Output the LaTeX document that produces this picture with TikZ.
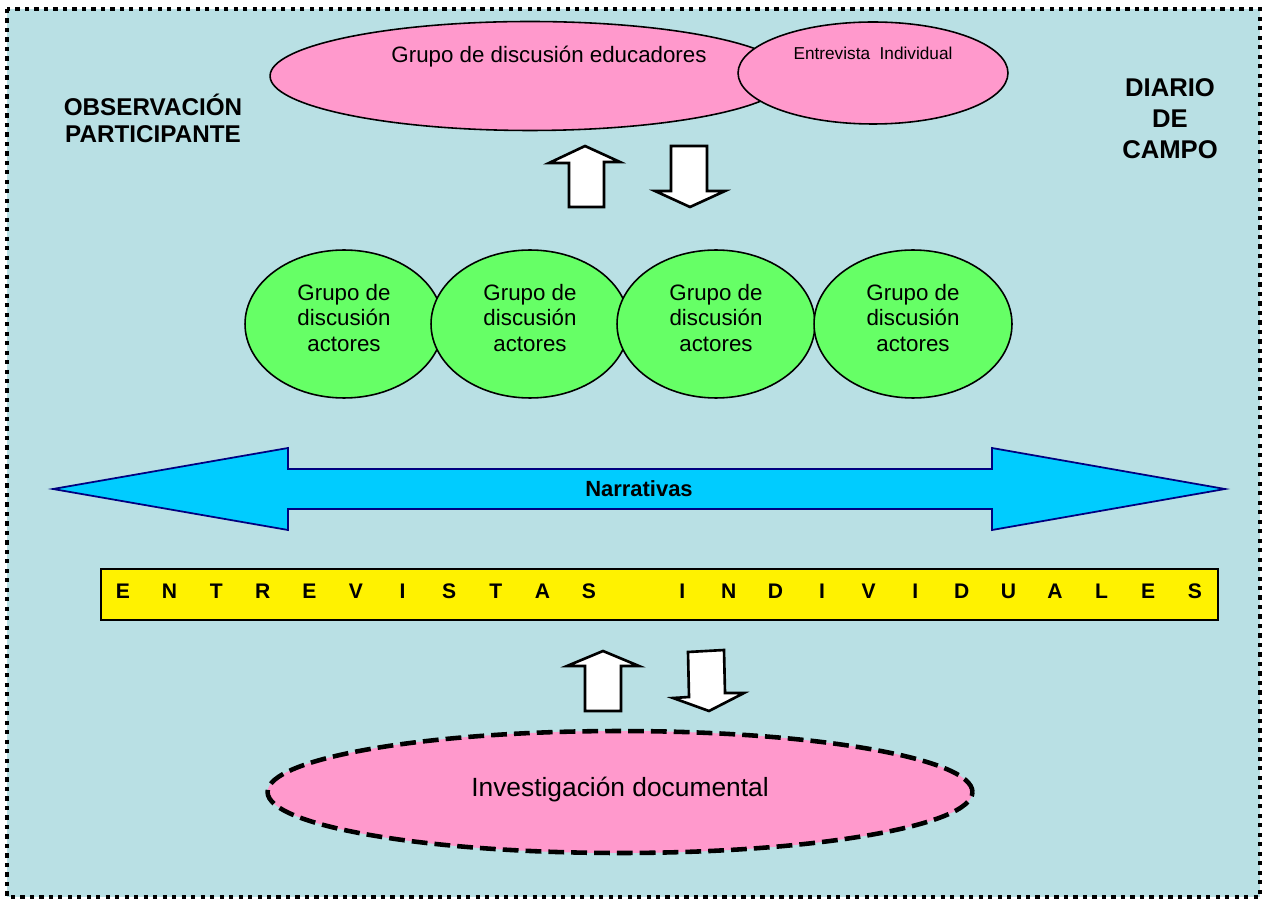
\documentclass[tikz,border=0pt]{standalone}
\usepackage{fontspec}
\setmainfont{Liberation Sans}
\usetikzlibrary{shapes.geometric, positioning}

\definecolor{bgblue}{HTML}{B9E0E4}
\definecolor{rosa}{HTML}{FF99CC}
\definecolor{verde}{HTML}{66FF66}
\definecolor{celeste}{HTML}{00CCFF}
\definecolor{marino}{HTML}{000080}

\begin{document}
\begin{tikzpicture}[x=0.02cm, y=-0.02cm,
    pinkell/.style={ellipse, draw=black, line width=0.9pt, fill=rosa, inner sep=0pt},
    actor/.style={ellipse, draw=black, line width=0.9pt, fill=verde, inner sep=0pt,
        minimum width=3.96cm, minimum height=2.96cm},
    actortext/.style={align=center, font=\fontsize{12.7}{14.5}\selectfont},
    blockarrow/.style={draw=black, fill=white, line width=1.5pt, line join=miter}]

\useasboundingbox (0,0) rectangle (1266,901);

% Background with dotted frame
\fill[bgblue] (7,9) rectangle (1260,897);
\draw[line width=2.4pt, dash pattern=on 2.4pt off 3pt] (7,9) rectangle (1260,897);

% Side titles
\node[align=center, font=\bfseries\fontsize{13.8}{15.4}\selectfont] (obs) at (153,118) {OBSERVACIÓN\\PARTICIPANTE};
\node[align=center, font=\bfseries\fontsize{14.6}{17.6}\selectfont] (diario) at (1170,119) {DIARIO\\DE\\CAMPO};

% Educators group and individual interview
\node[pinkell, minimum width=10.4cm, minimum height=2.18cm] (edu) at (530,76) {};
\node[font=\fontsize{12.7}{14.5}\selectfont] (edutext) at (549,57) {Grupo de discusión educadores};
\node[pinkell, minimum width=5.4cm, minimum height=2.04cm] (indiv) at (873,73) {};
\node[font=\fontsize{9.8}{11}\selectfont] (indivtext) at (873,53) {Entrevista\ \ Individual};

% Up / down arrows (top)
\draw[blockarrow] (585,146) -- (620,162) -- (604,162) -- (604,207) -- (569,207) -- (569,163) -- (549,163) -- cycle;
\draw[blockarrow] (671,146) -- (707,146) -- (707,191) -- (725,191) -- (690,207) -- (655,191) -- (671,191) -- cycle;

% Actors groups
\foreach \x [count=\i] in {344,530,716,913}
{
    \node[actor] (act\i) at (\x,324) {};
    \node[actortext] (acttext\i) at (\x,318) {Grupo de\\discusión\\actores};
}

% Narratives double arrow
\draw[draw=marino, fill=celeste, line width=1pt, line join=miter]
    (53,489) -- (288,448) -- (288,469) -- (992,469) -- (992,448) -- (1225,489)
    -- (992,530) -- (992,509) -- (288,509) -- (288,530) -- cycle;
\node[font=\bfseries\fontsize{12.5}{14}\selectfont] (narr) at (639,489) {Narrativas};

% Individual interviews bar
\draw[fill=yellow, line width=1.2pt] (101,569) rectangle (1218,620);
\foreach \ch [count=\i from 0] in {E,N,T,R,E,V,I,S,T,A,S,,I,N,D,I,V,I,D,U,A,L,E,S}
{
    \node[font=\bfseries\fontsize{12}{14}\selectfont] (l\i) at (123+\i*46.6,591) {\ch};
}

% Up / down arrows (bottom)
\draw[blockarrow] (603,651) -- (639,666) -- (621,666) -- (621,711) -- (585,711) -- (585,666) -- (567,666) -- cycle;
\draw[blockarrow] (688,652) -- (724,650) -- (725,693) -- (744,693) -- (709,711) -- (673,698) -- (689,697) -- cycle;

% Documentary research
\node[ellipse, draw=black, fill=rosa, line width=2.6pt, dash pattern=on 9pt off 4pt, inner sep=0pt,
    minimum width=14.1cm, minimum height=2.44cm] (doc) at (620,792) {};
\node[font=\fontsize{15}{17}\selectfont] (doctext) at (620,790) {Investigación documental};

\end{tikzpicture}
\end{document}
